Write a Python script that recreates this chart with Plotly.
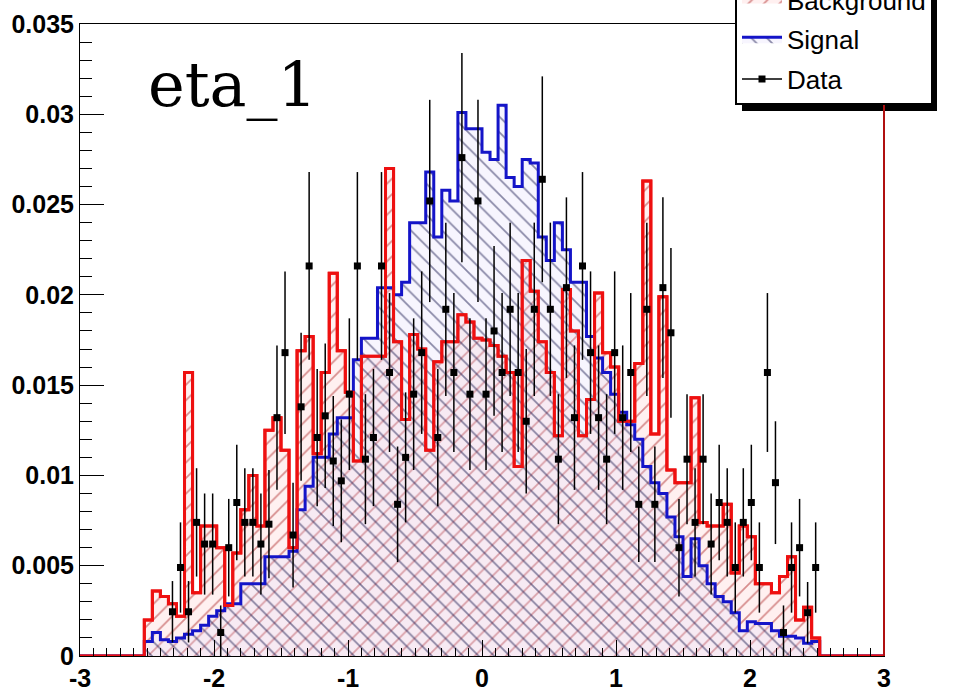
import plotly.graph_objects as go

# ---------------- data ----------------
X_MIN, X_MAX, N_BINS = -3.0, 3.0, 100
FIRST_BIN = 8   # index of first filled bin

bg = [0.0020, 0.0036, 0.0033, 0.0029, 0.0022, 0.0157, 0.0035, 0.0072, 0.0072, 0.0060,
      0.0028, 0.0057, 0.0081, 0.0100, 0.0072, 0.0125, 0.0132, 0.0114, 0.0060, 0.0169,
      0.0177, 0.0112, 0.0157, 0.0212, 0.0169, 0.0146, 0.0108, 0.0166, 0.0166, 0.0166,
      0.0270, 0.0174, 0.0131, 0.0178, 0.0170, 0.0114, 0.0163, 0.0174, 0.0174, 0.0189,
      0.0185, 0.0176, 0.0175, 0.0172, 0.0166, 0.0157, 0.0105, 0.0219, 0.0202, 0.0174,
      0.0157, 0.0122, 0.0203, 0.0180, 0.0122, 0.0142, 0.0201, 0.0168, 0.0160, 0.0130,
      0.0130, 0.0162, 0.0263, 0.0123, 0.0199, 0.0103, 0.0096, 0.0096, 0.0143, 0.0074,
      0.0072, 0.0072, 0.0084, 0.0046, 0.0072, 0.0066, 0.0040, 0.0040, 0.0035, 0.0044,
      0.0055, 0.0020, 0.0027, 0.0010]

sig = [0.0008, 0.0013, 0.0009, 0.0008, 0.0010, 0.0012, 0.0014, 0.0017, 0.0022, 0.0025,
       0.0029, 0.0029, 0.0040, 0.0040, 0.0040, 0.0055, 0.0055, 0.0055, 0.0058, 0.0081,
       0.0094, 0.0110, 0.0110, 0.0123, 0.0132, 0.0132, 0.0164, 0.0176, 0.0176, 0.0204,
       0.0204, 0.0200, 0.0207, 0.0240, 0.0240, 0.0268, 0.0232, 0.0258, 0.0252, 0.0301,
       0.0292, 0.0292, 0.0279, 0.0275, 0.0305, 0.0265, 0.0260, 0.0275, 0.0273, 0.0232,
       0.0219, 0.0240, 0.0225, 0.0207, 0.0207, 0.0177, 0.0165, 0.0157, 0.0145, 0.0135,
       0.0128, 0.0120, 0.0105, 0.0096, 0.0090, 0.0077, 0.0066, 0.0044, 0.0065, 0.0050,
       0.0040, 0.0033, 0.0030, 0.0024, 0.0014, 0.0019, 0.0018, 0.0018, 0.0014, 0.0011,
       0.0011, 0.0010, 0.0007, 0.0008]

data_y = [None, None, None, 0.00245, 0.0049, 0.00245, 0.0074, 0.0062, 0.0062, 0.0013,
          0.0060, 0.0085, 0.0074, 0.0074, 0.0062, 0.0073, 0.0132, 0.0168, 0.0067, 0.0138,
          0.0216, 0.0121, 0.0133, 0.0108, 0.0097, 0.0145, 0.0216, 0.0109, 0.0121, 0.0216,
          0.0157, 0.0084, 0.0110, 0.0145, 0.0168, 0.0252, 0.0121, 0.0192, 0.0157, 0.0276,
          0.0145, 0.0252, 0.0145, 0.0180, 0.0157, 0.0192, 0.0157, 0.0130, 0.0192, 0.0264,
          0.0192, 0.0109, 0.0204, 0.0132, 0.0216, 0.0168, 0.0132, 0.0109, 0.0168, 0.0132,
          0.0157, 0.0084, 0.0192, 0.0084, 0.0204, 0.0179, 0.0060, 0.0109, 0.0074, 0.0109,
          0.0062, 0.0085, 0.0074, 0.0049, 0.0074, 0.0085, 0.0049, 0.0157, 0.0096, 0.0013,
          0.0049, 0.0060, 0.0024, 0.0049]

data_err = [None, None, None, 0.0017, 0.0025, 0.0017, 0.0030, 0.0028, 0.0028, 0.0015,
            0.0027, 0.0032, 0.0030, 0.0030, 0.0028, 0.0030, 0.0040, 0.0045, 0.0029, 0.0041,
            0.0052, 0.0038, 0.0040, 0.0036, 0.0034, 0.0042, 0.0052, 0.0036, 0.0038, 0.0052,
            0.0044, 0.0032, 0.0036, 0.0042, 0.0045, 0.0056, 0.0038, 0.0048, 0.0044, 0.0058,
            0.0042, 0.0056, 0.0042, 0.0047, 0.0044, 0.0048, 0.0044, 0.0040, 0.0048, 0.0057,
            0.0048, 0.0036, 0.0050, 0.0040, 0.0052, 0.0045, 0.0040, 0.0036, 0.0045, 0.0040,
            0.0044, 0.0032, 0.0048, 0.0032, 0.0050, 0.0047, 0.0027, 0.0036, 0.0030, 0.0036,
            0.0028, 0.0032, 0.0030, 0.0025, 0.0030, 0.0032, 0.0025, 0.0044, 0.0034, 0.0015,
            0.0025, 0.0027, 0.0017, 0.0025]

x_tickvals = [-3, -2, -1, 0, 1, 2, 3]
x_ticktext = ["-3", "-2", "-1", "0", "1", "2", "3"]
series_names = ["Background", "Signal", "Data"]
title_text = "eta_1"

# ---------------- build ----------------
bw = (X_MAX - X_MIN) / N_BINS
edges = [X_MIN + k * bw for k in range(N_BINS + 1)]


def full(vals):
    arr = [0.0] * N_BINS
    arr[FIRST_BIN:FIRST_BIN + len(vals)] = vals
    return arr + [arr[-1]]


# data points, separated by gaps so the (legend) line never joins them
dx, dy, de = [], [], []
for i, (v, e) in enumerate(zip(data_y, data_err)):
    if v is None:
        continue
    k = FIRST_BIN + i
    dx += [(edges[k] + edges[k + 1]) / 2, None]
    dy += [v, None]
    de += [e, 0]

RED = "#ee1010"
BLUE = "#1414c8"

fig = go.Figure()

fig.add_trace(go.Scatter(
    x=edges, y=full(bg), name=series_names[0], mode="lines",
    line=dict(shape="hv", color=RED, width=3),
    fill="tozeroy",
    fillpattern=dict(shape="/", fgcolor="rgba(170,30,30,0.95)",
                     bgcolor="rgba(255,215,215,0.38)", size=11, solidity=0.16),
    legendgroup="b", legendrank=1,
))
fig.add_trace(go.Scatter(
    x=edges, y=full(sig), name=series_names[1], mode="lines",
    line=dict(shape="hv", color=BLUE, width=3),
    fill="tozeroy",
    fillpattern=dict(shape="\\", fgcolor="rgba(15,15,70,0.95)",
                     bgcolor="rgba(225,215,250,0.25)", size=11, solidity=0.16),
    legendgroup="s", legendrank=2,
))
# background outline again, on top of the signal hatching
fig.add_trace(go.Scatter(
    x=edges, y=full(bg), mode="lines", showlegend=False, hoverinfo="skip",
    line=dict(shape="hv", color=RED, width=3), legendgroup="b",
))
fig.add_trace(go.Scatter(
    x=dx, y=dy, name=series_names[2], mode="lines+markers", connectgaps=False,
    line=dict(color="black", width=1.5),
    marker=dict(symbol="square", size=7, color="black"),
    error_y=dict(type="data", array=de, visible=True, color="black",
                 thickness=1.5, width=0),
    legendgroup="d", legendrank=3,
))

L, R, T, B = 80, 71, 24, 44
W, H = 955, 700
pw, ph = W - L - R, H - T - B


def px_x(p):
    return (p - L) / pw


def px_y(p):
    return (H - B - p) / ph


# legend drop shadow
fig.add_shape(type="rect", xref="paper", yref="paper",
              x0=px_x(742), x1=px_x(937), y0=px_y(111), y1=px_y(-20),
              fillcolor="black", line=dict(width=0), layer="above")
# right frame edge (red in the reference)
fig.add_shape(type="line", xref="paper", yref="paper",
              x0=1, x1=1, y0=0, y1=1, line=dict(color="#b01010", width=2))

fig.add_annotation(text=title_text, xref="paper", yref="paper",
                   x=px_x(146), y=px_y(85), xanchor="left", yanchor="middle",
                   showarrow=False,
                   font=dict(family="DejaVu Serif", size=62, color="black"))

tickfont = dict(family="Liberation Sans", size=25, color="black", weight="bold")
fig.update_xaxes(range=[X_MIN, X_MAX], tickmode="array", tickvals=x_tickvals,
                 ticktext=x_ticktext, ticks="inside", ticklen=16, tickwidth=1,
                 tickcolor="black", showline=True, linecolor="black", linewidth=1,
                 mirror=True, showgrid=False, zeroline=False, tickfont=tickfont,
                 ticklabelstandoff=0,
                 minor=dict(ticks="inside", ticklen=8, dtick=0.1, tickcolor="black",
                            showgrid=False))
fig.update_yaxes(range=[0, 0.035], tickmode="linear", tick0=0, dtick=0.005,
                 ticks="inside", ticklen=24, tickwidth=1, tickcolor="black",
                 showline=True, linecolor="black", linewidth=1, mirror=True,
                 showgrid=False, zeroline=False, tickfont=tickfont,
                 minor=dict(ticks="inside", ticklen=12, dtick=0.001,
                            tickcolor="black", showgrid=False))

fig.update_layout(
    width=W, height=H,
    margin=dict(l=L, r=R, t=T, b=B, autoexpand=False),
    plot_bgcolor="white", paper_bgcolor="white",
    showlegend=True,
    legend=dict(x=px_x(735), y=px_y(105), xanchor="left", yanchor="bottom",
                bgcolor="white", bordercolor="black", borderwidth=2,
                font=dict(family="Liberation Sans", size=26, color="black"),
                tracegroupgap=3, itemwidth=40, traceorder="grouped"),
)

fig.write_html("out.html")
